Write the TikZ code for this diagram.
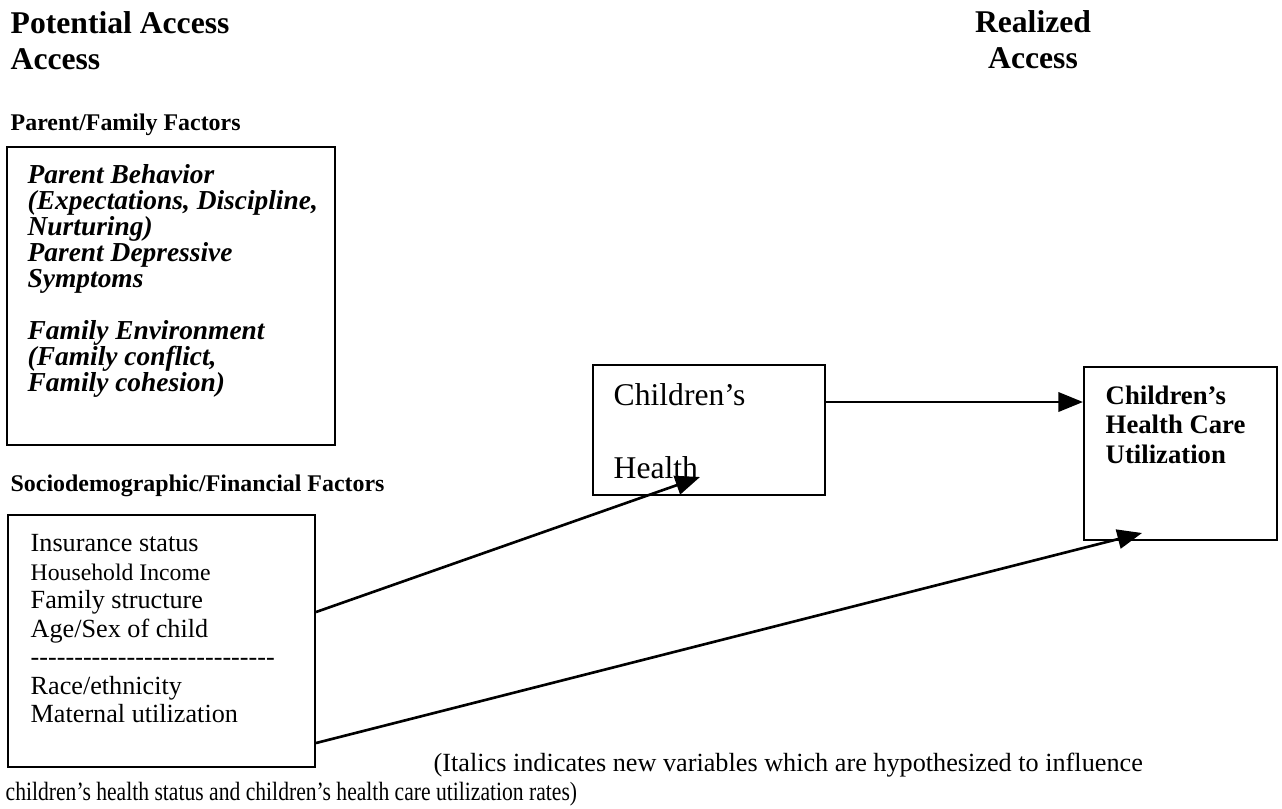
\documentclass[tikz,border=0pt]{standalone}
\usepackage{fontspec}
\setmainfont{Liberation Serif}[Ligatures=TeXOff]
\newfontfamily\notefont{Liberation Serif}[FakeStretch=0.82,Ligatures=TeXOff]
\usetikzlibrary{arrows.meta,positioning,calc}
\newcommand{\tightlines}{\lineskiplimit=-100pt\relax}

\begin{document}
\begin{tikzpicture}
\tikzstyle{head}=[font=\fontsize{9}{10.2}\selectfont\bfseries, inner sep=0, anchor=north, align=left]
\tikzstyle{subhead}=[font=\fontsize{6.8}{8}\selectfont\bfseries, inner sep=0, anchor=base west]
\tikzstyle{box}=[draw, line width=0.6pt, rectangle, inner sep=0]
\tikzstyle{boxtext}=[inner sep=0, anchor=north west, align=left]
\tikzstyle{notetext}=[inner sep=0, anchor=base west]
\tikzstyle{vecArrow}=[line width=0.75pt, -{Triangle[length=7pt,width=5.5pt]}]

\useasboundingbox (0,0) rectangle (12.82,-8.08);

% headings
\node[head, anchor=north west] (potential) at (0.10,-0.11) {Potential Access\\Access};
\node[head, align=center] (realized) at (10.33,-0.10) {Realized\\Access};
\node[subhead] (famhead) at (0.10,-1.30) {Parent/Family Factors};
\node[subhead] (sociohead) at (0.10,-4.91) {Sociodemographic/Financial Factors};

% boxes
\node[box, minimum width=3.28cm, minimum height=2.98cm] (parent) at (1.71,-2.96) {};
\node[box, minimum width=3.07cm, minimum height=2.52cm] (socio) at (1.615,-6.41) {};
\node[box, minimum width=2.32cm, minimum height=1.30cm] (health) at (7.09,-4.30) {};
\node[box, minimum width=1.93cm, minimum height=1.73cm] (util) at (11.805,-4.535) {};

\node[boxtext, font=\fontsize{7.8}{7.4}\selectfont\bfseries\itshape\tightlines] (parenttext) at (0.27,-1.64)
  {Parent Behavior\\(Expectations, Discipline,\\Nurturing)\\Parent Depressive\\Symptoms\\[7.4pt]Family Environment\\(Family conflict,\\Family cohesion)};
\node[boxtext, font=\fontsize{7.45}{8.1}\selectfont\tightlines] (sociotext) at (0.30,-5.34)
  {Insurance status\\{\fontsize{6.75}{8.1}\selectfont Household Income}\\Family structure\\Age/Sex of child\\----------------------------\\Race/ethnicity\\Maternal utilization};
\node[boxtext, font=\fontsize{9}{20.8}\selectfont\tightlines] (healthtext) at (6.13,-3.83) {Children’s\\Health};
\node[boxtext, font=\fontsize{7.6}{8.4}\selectfont\bfseries\tightlines] (utiltext) at (11.05,-3.85) {Children’s\\Health Care\\Utilization};

% note
\node[notetext, font=\fontsize{7.46}{8.25}\selectfont] (note) at (4.33,-7.71)
  {(Italics indicates new variables which are hypothesized to influence};
\node[notetext, font=\notefont\fontsize{7.5}{8.25}\selectfont] (notecont) at (0.05,-8.00)
  {children’s health status and children’s health care utilization rates)};

% arrows
\coordinate (healthtip) at (7.00,-4.77);
\coordinate (utiltip) at (11.42,-5.33);
\draw[vecArrow] ([yshift=2.9mm]socio.east) -- (healthtip);
\draw[vecArrow] ([yshift=-10.2mm]socio.east) -- (utiltip);
\draw[vecArrow] ([yshift=2.8mm]health.east) -- ([yshift=2.8mm]health.east -| util.west);

\end{tikzpicture}
\end{document}
